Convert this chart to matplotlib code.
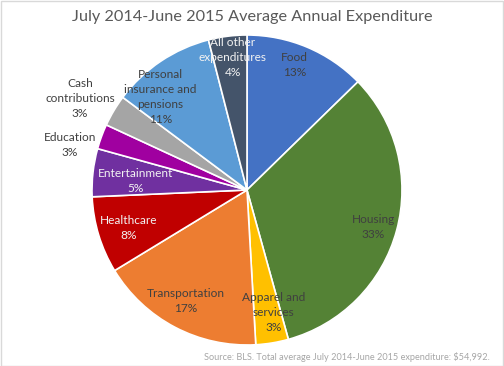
import numpy as np
import matplotlib
matplotlib.use("Agg")
import matplotlib.pyplot as plt
from matplotlib.patches import Rectangle

categories = ["Food", "Housing", "Apparel and\nservices", "Transportation", "Healthcare",
              "Entertainment", "Education", "Cash\ncontributions",
              "Personal\ninsurance and\npensions", "All other\nexpenditures"]
shares = [12.7, 33.0, 3.4, 17.2, 8.0, 5.0, 2.6, 3.3, 10.8, 4.0]
pct_labels = ["13%", "33%", "3%", "17%", "8%", "5%", "3%", "3%", "11%", "4%"]

colors = ["#4472C4", "#548235", "#FFC000", "#ED7D31", "#C00000",
          "#7030A0", "#A000A0", "#A5A5A5", "#5B9BD5", "#44546A"]
text_colors = ["#404040", "#404040", "#404040", "#404040", "#F2F2F2",
               "#F2F2F2", "#404040", "#404040", "#404040", "#F2F2F2"]
# label layout: radius (fraction of pie radius) and angular offset (deg, clockwise) from wedge middle
label_r = [0.86, 0.85, 0.81, 0.82, 0.80, 0.72, 1.18, 1.23, 0.82, 0.86]
label_dang = [-2, 1, -3, 1, -1, -2, -6, -2, -9, 1]

FONT = ["Lato", "DejaVu Sans"]
plt.rcParams['font.family'] = FONT

W, H = 504, 366
fig = plt.figure(figsize=(W / 100, H / 100), dpi=100)
fig.patch.set_facecolor("white")
fig.add_artist(Rectangle((0.5 / W, 0.5 / H), 1 - 1.5 / W, 1 - 1.5 / H, transform=fig.transFigure,
                         fill=False, edgecolor="#D9D9D9", linewidth=1))

cx, cy, R = 247, 190, 155
ax = fig.add_axes([(cx - R) / W, (H - cy - R) / H, 2 * R / W, 2 * R / H])
wedges, _ = ax.pie(shares, colors=colors, startangle=90, counterclock=False, radius=1,
                   wedgeprops=dict(edgecolor="white", linewidth=1.2))
ax.set_xlim(-1, 1)
ax.set_ylim(-1, 1)
ax.set_aspect("equal")
ax.axis("off")

for w, cat, pct, tc, r, da in zip(wedges, categories, pct_labels, text_colors, label_r, label_dang):
    mid = np.deg2rad((w.theta1 + w.theta2) / 2 - da)
    x, y = r * np.cos(mid), r * np.sin(mid)
    ax.text(x, y, f"{cat}\n{pct}", ha="center", va="center", fontsize=8.6,
            color=tc, linespacing=1.45, clip_on=False)

fig.text(252 / W, 1 - 17 / H, "July 2014-June 2015 Average Annual Expenditure",
         ha="center", va="center", fontsize=11.7, color="#595959")
fig.text(490 / W, 1 - 357 / H,
         "Source: BLS. Total average July 2014-June 2015 expenditure: $54,992.",
         ha="right", va="center", fontsize=6.6, color="#A6A6A6")

fig.savefig("out.png", dpi=100)
